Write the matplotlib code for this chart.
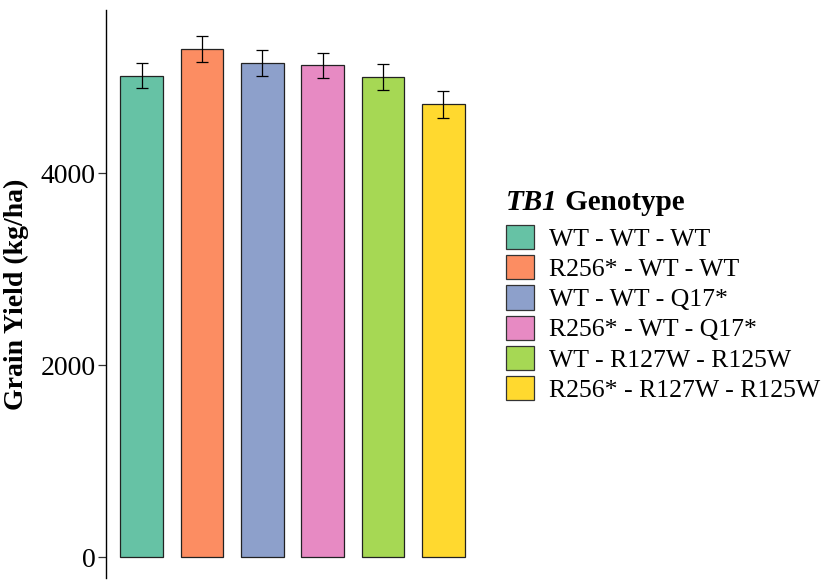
import numpy as np
import matplotlib
matplotlib.use("Agg")
import matplotlib.pyplot as plt
from matplotlib.patches import Patch

# data
genotypes = ["WT - WT - WT", "R256* - WT - WT", "WT - WT - Q17*",
             "R256* - WT - Q17*", "WT - R127W - R125W", "R256* - R127W - R125W"]
grain_yield = [5020, 5295, 5150, 5125, 5005, 4720]
yield_se = [132, 138, 135, 135, 138, 137]
yticks = [0, 2000, 4000]

colors = ["#66C2A5", "#FC8D62", "#8DA0CB", "#E78AC3", "#A6D854", "#FFD92F"]

plt.rcParams['font.family'] = ['Liberation Serif', 'DejaVu Serif']

fig = plt.figure(figsize=(8.22, 5.80), dpi=100)
ax = fig.add_axes([106 / 822, 2 / 580, (479 - 106) / 822, 568 / 580])

x = np.arange(1, len(genotypes) + 1)
ax.bar(x, grain_yield, width=0.71, color=colors, edgecolor="#222222", linewidth=0.9)
ax.errorbar(x, grain_yield, yerr=yield_se, fmt="none", ecolor="black",
            elinewidth=0.9, capsize=4.3, capthick=0.9)

ax.set_xlim(0.41, 6.59)
ax.set_ylim(-214, 5703)
ax.set_yticks(yticks)
ax.set_yticklabels([str(v) for v in yticks])
ax.tick_params(axis="y", labelsize=20, length=6, width=0.9, pad=1.5, color="#333333")
ax.tick_params(axis="x", bottom=False, labelbottom=False)
for side in ["top", "right", "bottom"]:
    ax.spines[side].set_visible(False)
ax.spines["left"].set_linewidth(1.0)
ax.set_ylabel("Grain Yield (kg/ha)", fontsize=20, fontweight="bold", labelpad=8)

# legend
handles = [Patch(facecolor=c, edgecolor="#333333", linewidth=0.9) for c in colors]
leg = fig.legend(handles, genotypes, loc="upper left",
                 bbox_to_anchor=(488 / 822, 1 - 207 / 580), frameon=False,
                 fontsize=18.5, handlelength=1.08, handleheight=1.07,
                 handletextpad=0.58, labelspacing=0.17, borderpad=0.2)

# legend title with italic gene name
t1 = fig.text(506 / 822, 1 - 210 / 580, "TB1", fontsize=21, fontweight="bold",
              fontstyle="italic", va="baseline", ha="left")
fig.canvas.draw()
bb = t1.get_window_extent()
fig.text(bb.x1 / fig.bbox.width, 1 - 210 / 580, " Genotype", fontsize=21,
         fontweight="bold", va="baseline", ha="left")

fig.savefig("out.png", dpi=100)
